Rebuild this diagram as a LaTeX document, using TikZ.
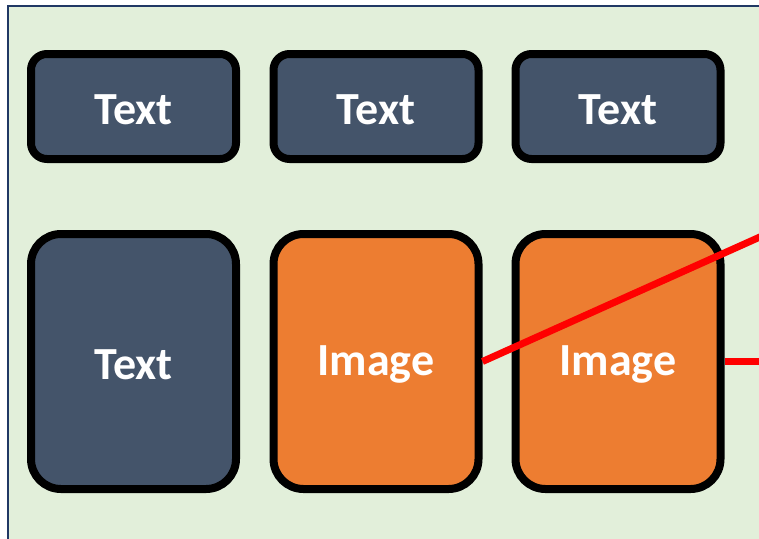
\documentclass[tikz,border=0pt]{standalone}
\usepackage{fontspec}
\setmainfont{Carlito}
\definecolor{panelgreen}{HTML}{E2EFDA}
\definecolor{panelnavy}{HTML}{203864}
\definecolor{slate}{HTML}{44546A}
\definecolor{tangerine}{HTML}{ED7D31}
\definecolor{linkred}{HTML}{FF0000}
\begin{document}
\begin{tikzpicture}[x=1pt,y=-1pt,
  tile/.style={draw=black, line width=8pt, inner sep=0pt,
    minimum width=205pt, text=white,
    font=\fontsize{46}{50}\selectfont\bfseries},
  small/.style={tile, fill=slate, minimum height=105pt, rounded corners=16pt},
  tall/.style={tile, minimum height=255pt, rounded corners=30pt},
  caption/.style={text=white, inner sep=0pt, yshift=-3pt,
    font=\fontsize{46}{50}\selectfont\bfseries},
  link/.style={draw=linkred, line width=7pt}]
  \useasboundingbox (0,0) rectangle (759,538);
  \clip (0,0) rectangle (759,538);
  \fill[white] (0,0) rectangle (759,538);
  % panel behind the tiles
  \draw[fill=panelgreen, draw=panelnavy, line width=2.5pt] (8,6) rectangle (800,580);
  % upper row
  \node[small] (t1) at (133.5,106.5) {};
  \node[small] (t2) at (376,106.5) {};
  \node[small] (t3) at (618,106.5) {};
  % lower row
  \node[tall, fill=slate] (b1) at (133.5,361.5) {};
  \node[tall, fill=tangerine] (b2) at (376,361.5) {};
  \node[tall, fill=tangerine] (b3) at (618,361.5) {};
  % captions, set a little below the tile centres
  \node[caption] (t1c) at (t1.center) {Text};
  \node[caption] (t2c) at (t2.center) {Text};
  \node[caption] (t3c) at (t3.center) {Text};
  \node[caption] (b1c) at (b1.center) {Text};
  \node[caption] (b2c) at (b2.center) {Image};
  \node[caption] (b3c) at (b3.center) {Image};
  % links leaving the panel
  \coordinate (farA) at (800,219);
  \coordinate (farB) at (800,361.5);
  \draw[link] (b2.east) -- (farA);
  \draw[link] (b3.east) -- (farB);
\end{tikzpicture}
\end{document}
